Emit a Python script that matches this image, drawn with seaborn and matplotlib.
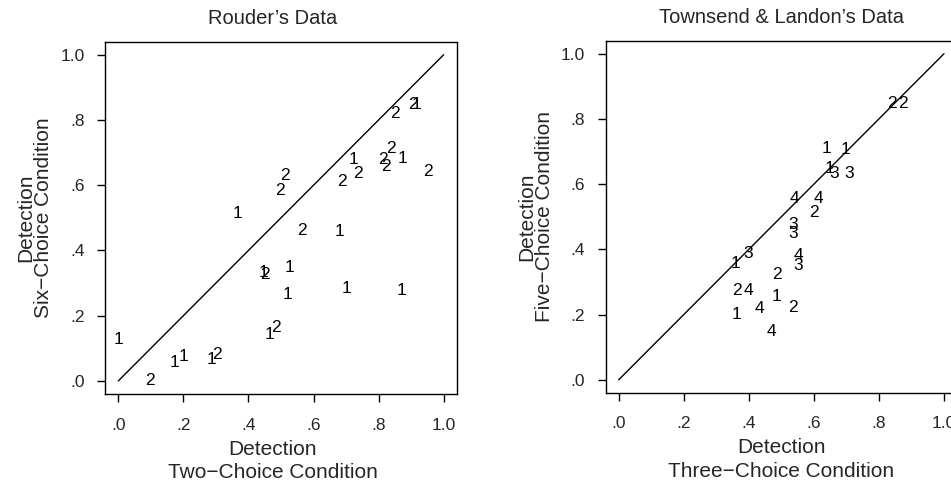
import numpy as np
import pandas as pd
import matplotlib
matplotlib.use("Agg")
import matplotlib.pyplot as plt
import seaborn as sns

# Rouder's data: x = two-choice detection, y = six-choice detection
rouder_labels = ["1"] * 15 + ["2"] * 15
rouder_two = [0.00, 0.174, 0.20, 0.286, 0.365, 0.447, 0.465, 0.527, 0.521, 0.68, 0.70, 0.723, 0.874, 0.871, 0.918,
              0.097, 0.304, 0.451, 0.486, 0.496, 0.513, 0.564, 0.687, 0.736, 0.813, 0.823, 0.839, 0.851, 0.905, 0.951]
rouder_six = [0.128, 0.056, 0.074, 0.066, 0.512, 0.333, 0.143, 0.348, 0.266, 0.459, 0.284, 0.68, 0.681, 0.278, 0.847,
              0.0, 0.082, 0.325, 0.164, 0.584, 0.63, 0.461, 0.61, 0.635, 0.679, 0.656, 0.712, 0.82, 0.847, 0.642]

# Townsend & Landon's data: x = three-choice detection, y = five-choice detection
tl_labels = ["1"] * 6 + ["2"] * 6 + ["3"] * 6 + ["4"] * 6
tl_three = [0.358, 0.361, 0.486, 0.640, 0.648, 0.696,
            0.365, 0.486, 0.535, 0.599, 0.839, 0.875,
            0.399, 0.535, 0.535, 0.553, 0.663, 0.709,
            0.399, 0.432, 0.471, 0.539, 0.553, 0.614]
tl_five = [0.356, 0.199, 0.254, 0.709, 0.648, 0.706,
           0.274, 0.322, 0.223, 0.514, 0.847, 0.847,
           0.387, 0.475, 0.448, 0.35, 0.634, 0.634,
           0.274, 0.22, 0.148, 0.555, 0.381, 0.557]

tick_vals = [0.0, 0.2, 0.4, 0.6, 0.8, 1.0]
tick_text = [".0", ".2", ".4", ".6", ".8", "1.0"]
diag = [0.0, 1.0]

sns.set_theme(style="ticks")
plt.rcParams['font.family'] = ['Liberation Sans', 'DejaVu Sans']
plt.rcParams['axes.edgecolor'] = 'black'
plt.rcParams['axes.linewidth'] = 1.0

fig = plt.figure(figsize=(9.51, 4.82), dpi=100)
ax1 = fig.add_axes([0.1107, 0.1826, 0.3695, 0.7309])
ax2 = fig.add_axes([0.6369, 0.185, 0.3694, 0.7306])

# (axes, x, y, labels, title, xlabel, ylabel, horizontal centre of title/xlabel)
panels = [
    (ax1, rouder_two, rouder_six, rouder_labels, "Rouder\u2019s Data",
     "Detection\nTwo\u2212Choice Condition", "Detection\nSix\u2212Choice Condition", 0.477),
    (ax2, tl_three, tl_five, tl_labels, "Townsend & Landon\u2019s Data",
     "Detection\nThree\u2212Choice Condition", "Detection\nFive\u2212Choice Condition", 0.5),
]

for ax, xs, ys, labs, title, xlab, ylab, xc in panels:
    df = pd.DataFrame({"x": xs, "y": ys, "lab": labs})
    sns.lineplot(x=diag, y=diag, ax=ax, color="black", linewidth=1.0)
    for _, row in df.iterrows():
        ax.text(row["x"], row["y"], row["lab"], ha="center", va="center", fontsize=12.5, color="black")
    ax.set_xlim(-0.04, 1.04)
    ax.set_ylim(-0.04, 1.04)
    ax.set_xticks(tick_vals)
    ax.set_xticklabels(tick_text)
    ax.set_yticks(tick_vals)
    ax.set_yticklabels(tick_text)
    ax.tick_params(axis="x", length=6, width=1, pad=11, labelsize=12.5, color="black")
    ax.tick_params(axis="y", length=6, width=1, pad=9, labelsize=12.5, color="black")
    ax.set_title(title, fontsize=14.5, pad=13, x=xc)
    ax.set_xlabel(xlab, fontsize=15, labelpad=5, linespacing=1.3)
    ax.xaxis.label.set_x(xc)
    ax.set_ylabel(ylab, fontsize=15, labelpad=5, linespacing=0.9)
    for sp in ax.spines.values():
        sp.set_visible(True)
        sp.set_color("black")

fig.savefig("out.png", dpi=100)
